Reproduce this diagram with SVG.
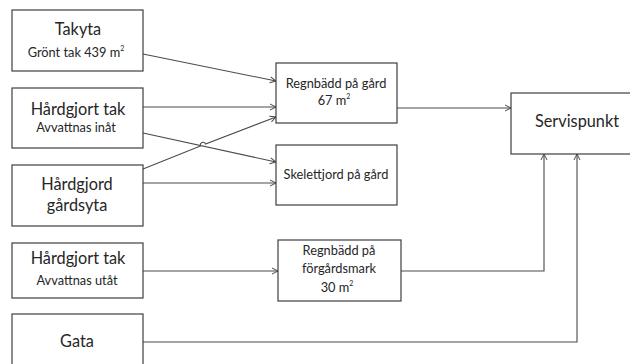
<svg xmlns="http://www.w3.org/2000/svg" width="630" height="364" viewBox="0 0 630 364">
<style>
.box{fill:#fff;stroke:#3f3f3f;stroke-width:1.2}
.ln{fill:none;stroke:#4a4a4a;stroke-width:1.1}
text{font-family:Lato,"Open Sans","Liberation Sans",sans-serif;fill:#262626;text-anchor:middle}
.big{font-size:16.3px}
.sm{font-size:12.8px}
.sup{font-size:7px}
</style>
<defs>
<marker id="ah" markerWidth="8" markerHeight="8" refX="7" refY="4" orient="auto" markerUnits="userSpaceOnUse">
<polyline points="1,1 7,4 1,7" fill="none" stroke="#4a4a4a" stroke-width="1"/>
</marker>
</defs>
<rect width="630" height="364" fill="#fff"/>
<g id="connectors">
<line class="ln" x1="143" y1="54" x2="276" y2="81" marker-end="url(#ah)"/>
<line class="ln" x1="143" y1="107" x2="276" y2="107" marker-end="url(#ah)"/>
<line class="ln" x1="143" y1="133" x2="276" y2="162" marker-end="url(#ah)"/>
<path class="ln" d="M143,169 L200.5,146 A2.6,2.6 0 0 1 205.5,144 L276,117" marker-end="url(#ah)"/>
<line class="ln" x1="143" y1="183" x2="276" y2="183" marker-end="url(#ah)"/>
<line class="ln" x1="143" y1="271" x2="278" y2="271" marker-end="url(#ah)"/>
<line class="ln" x1="397" y1="108" x2="511" y2="108" marker-end="url(#ah)"/>
<polyline class="ln" points="401,271 544,271 544,154" marker-end="url(#ah)"/>
<polyline class="ln" points="143,342 577,342 577,154" marker-end="url(#ah)"/>
</g>
<g id="takyta">
<rect class="box" x="12" y="10" width="131" height="61"/>
<text class="big" x="78" y="35">Takyta</text>
<text class="sm" x="76" y="57">Grönt tak 439 m<tspan class="sup" dy="-6">2</tspan></text>
</g>
<g id="hardgjort-tak-inat">
<rect class="box" x="12" y="88" width="131" height="60"/>
<text class="big" x="78" y="115">Hårdgjort tak</text>
<text class="sm" x="76" y="132">Avvattnas inåt</text>
</g>
<g id="hardgjord-gardsyta">
<rect class="box" x="12" y="165" width="131" height="61"/>
<text class="big" x="77" y="190">Hårdgjord</text>
<text class="big" x="77" y="211">gårdsyta</text>
</g>
<g id="hardgjort-tak-utat">
<rect class="box" x="12" y="243" width="131" height="55"/>
<text class="big" x="78" y="264">Hårdgjort tak</text>
<text class="sm" x="77" y="285">Avvattnas utåt</text>
</g>
<g id="gata">
<rect class="box" x="12" y="314" width="131" height="60"/>
<text class="big" x="77" y="347">Gata</text>
</g>
<g id="regnbadd-gard">
<rect class="box" x="276" y="63" width="121" height="60"/>
<text class="sm" x="336" y="88">Regnbädd på gård</text>
<text class="sm" x="334" y="105">67 m<tspan class="sup" dy="-6">2</tspan></text>
</g>
<g id="skelettjord">
<rect class="box" x="276" y="145" width="121" height="60"/>
<text class="sm" x="336" y="179">Skelettjord på gård</text>
</g>
<g id="regnbadd-forgard">
<rect class="box" x="278" y="240" width="123" height="61"/>
<text class="sm" x="339" y="255">Regnbädd på</text>
<text class="sm" x="339" y="273">förgårdsmark</text>
<text class="sm" x="337" y="292">30 m<tspan class="sup" dy="-6">2</tspan></text>
</g>
<g id="servispunkt">
<rect class="box" x="511" y="93" width="134" height="61"/>
<text class="big" x="577" y="127">Servispunkt</text>
</g>
</svg>
